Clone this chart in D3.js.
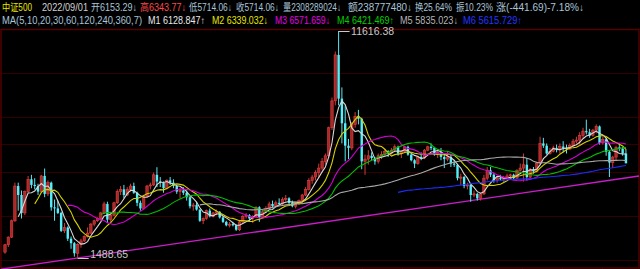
<!DOCTYPE html>
<html>
<head>
<meta charset="utf-8">
<style>
    body { margin: 0; background: #000; }
    svg { display: block; background: #000; }
    text { font-family: Arial, 'Liberation Sans', 'Noto Sans CJK SC', sans-serif; }
</style>
</head>
<body>
<svg width="640" height="269"></svg>
<script src="https://d3js.org/d3.v7.min.js"></script>
<script>
// monthly bars, 2007/01 .. 2022/09
const months = d3.timeMonth.range(new Date(2007, 0, 1), new Date(2022, 9, 1)).map(d3.timeFormat("%Y/%m"));

const opens = [1750,2080,2420,3150,4700,4300,3500,4450,5000,4750,4700,4450,
    5150,4350,4850,3750,3700,3500,2700,2850,2350,2150,1700,2100,
    2250,2450,2600,3000,3150,3250,3500,3900,3200,3400,3950,4450,
    4550,4300,4550,4700,4400,3950,3700,4250,4700,4750,5200,4900,
    4850,4600,4950,4850,4700,4450,4500,4400,4200,3800,3850,3650,
    3150,3250,3600,3350,3500,3550,3300,3100,2950,3000,2950,2750,
    3100,3350,3400,3250,3350,3750,3300,3550,3700,3900,3800,3950,
    3900,4100,4150,3950,3800,3900,4050,4300,4550,4950,5100,5300,
    5500,5800,6050,7300,8500,10550,8600,7500,6500,6400,7450,7800,
    7700,5800,5900,6050,5950,5800,6050,6100,6250,6150,6300,6450,
    6150,6236,6450,6100,5850,5700,6000,5950,6300,6450,6400,6100,
    6200,6000,5900,6000,5700,5650,5050,5100,4700,4750,4300,4350,
    4150,4350,5050,5400,5207,4950,5050,5000,5050,5150,5200,5050,
    5400,5500,5650,5100,5450,5350,5700,6600,6500,6150,6250,6400,
    6350,6461,6400,6350,6500,6700,6750,6950,7150,7100,6950,7193,
    7359,6626,6786,6230,5745,5990,6420,6367,6153.29];
const highs = [2120,2450,3200,4850,4850,4500,4500,5150,5200,5050,4800,5200,
    5480,4950,4900,4100,4050,3550,3050,2900,2450,2200,2150,2350,
    2500,2850,3050,3200,3300,3550,4000,4000,3500,4000,4550,4700,
    4750,4650,4800,4850,4450,4050,4300,4750,4850,5300,5540,5100,
    4900,5000,5100,5000,4750,4600,4650,4500,4250,3950,4000,3650,
    3300,3650,3700,3550,3650,3580,3350,3150,3100,3100,2980,3150,
    3400,3500,3450,3400,3800,3800,3650,3800,4000,4050,4050,4150,
    4200,4300,4200,4050,3950,4100,4350,4650,5050,5200,5400,5700,
    5950,6150,7350,8650,10700,11616.38,9100,8300,6800,7550,8000,8100,
    7750,6100,6300,6200,6000,6150,6250,6350,6300,6400,6550,6500,
    6250,6500,6500,6150,5900,6050,6200,6350,6500,6600,6450,6250,
    6400,6100,6250,6100,5850,5700,5250,5150,4850,4800,4500,4400,
    4400,5200,5550,5550,5300,5150,5200,5150,5250,5250,5250,5450,
    5700,6150,5950,5500,5550,5750,6900,6850,6600,6400,6500,6550,
    6600,6700,6550,6600,6800,6900,7100,7300,7660,7250,7250,7450,
    7400,6900,6850,6300,6050,6500,6600,6450,6343.77];
const lows = [1680,1980,2380,3100,3600,3250,3400,4400,4600,4550,4300,4400,
    4200,4250,3600,3150,3450,2650,2600,2250,1900,1550,1488.65,1950,
    2200,2400,2550,2900,3100,3200,3450,3050,3100,3350,3900,4300,
    4150,4250,4450,4350,3800,3600,3650,4200,4550,4700,4650,4650,
    4400,4550,4750,4600,4350,4150,4300,4050,3700,3600,3600,3100,
    3000,3200,3300,3300,3400,3250,3050,2900,2850,2900,2700,2690,
    3050,3250,3150,3050,3300,3100,3250,3500,3650,3700,3750,3850,
    3850,4000,3850,3750,3700,3850,3950,4250,4500,4800,4950,5050,
    5400,5650,6000,7200,8300,8300,6600,5800,5900,6300,7300,7450,
    5450,5200,5650,5850,5650,5700,5900,6000,6000,6100,6250,6050,
    5950,6200,6050,5800,5500,5650,5850,5900,6250,6300,6050,5950,
    5850,5500,5800,5550,5550,4950,4750,4600,4550,4000,4200,4050,
    4050,4300,4950,5100,4850,4850,4950,4850,5000,5000,5000,5000,
    5350,4900,4950,5050,5250,5300,5650,6400,6100,6100,6200,6200,
    6150,6200,6150,6300,6450,6600,6550,6850,7000,6850,6900,7050,
    6550,6550,6050,5100,5500,5850,6250,6050,5714.06];
const closes = [2080,2420,3150,4700,4300,3500,4450,5000,4750,4700,4450,5150,
    4350,4850,3750,3700,3500,2700,2850,2350,2150,1700,2100,2250,
    2450,2600,3000,3150,3250,3500,3900,3200,3400,3950,4450,4550,
    4300,4550,4700,4400,3950,3700,4250,4700,4750,5200,4900,4850,
    4600,4950,4850,4700,4450,4500,4400,4200,3800,3850,3650,3150,
    3250,3600,3350,3500,3550,3300,3100,2950,3000,2950,2750,3100,
    3350,3400,3250,3350,3750,3300,3550,3700,3900,3800,3950,3900,
    4100,4150,3950,3800,3900,4050,4300,4550,4950,5100,5300,5500,
    5800,6050,7300,8500,10550,8600,7500,6500,6400,7450,7800,7700,
    5800,5900,6050,5950,5800,6050,6100,6250,6150,6300,6450,6150,
    6236,6450,6100,5850,5700,6000,5950,6300,6450,6400,6100,6200,
    6000,5900,6000,5700,5650,5050,5100,4700,4750,4300,4350,4150,
    4350,5050,5400,5207,4950,5050,5000,5050,5150,5200,5050,5400,
    5500,5650,5100,5450,5350,5700,6600,6500,6150,6250,6400,6350,
    6461,6400,6350,6500,6700,6750,6950,7150,7100,6950,7193,7359,
    6626,6786,6230,5745,5990,6420,6367,6153,5714.06];

// moving averages shown (M1..M6)
const maPeriods = [5, 10, 20, 30, 60, 120];
const maNames = ["M1", "M2", "M3", "M4", "M5", "M6"];
const maLast = ["6128.847", "6339.032", "6571.659", "6421.469", "5835.023", "5615.729"];
const maArrows = ["↑", "↓", "↓", "↑", "↓", "↑"];

// header, first row
const headerItems = ["中证500", "2022/09/01", "开6153.29↓", "高6343.77↓", "低5714.06↓", "收5714.06↓",
    "量2308289024↓", "额238777480↓", "换25.64%", "振10.23%", "涨(-441.69)-7.18%↓"];
const maTitle = "MA(5,10,20,30,60,120,240,360,7)";

// horizontal grid levels
const gridValues = [9740, 7780, 6575, 5325, 3360, 1420];

// hand drawn support line, through two lows
const trendMonths = ["2008/11", "2018/10"];
const trendValues = [1488.65, 4050];

// ---------------------------------------------------------------
const W = 640, H = 269;
const svg = d3.select("svg");
const plot = { left: 1, right: 639, top: 29.5, bottom: 268 };

const data = months.map((m, i) => ({ m: m, o: opens[i], h: highs[i], l: lows[i], c: closes[i] }));

const x = d3.scaleBand()
    .domain(months)
    .range([3.35, 627.6])
    .padding(0);

const y = d3.scaleLinear()
    .domain([1488.65, 11616.38])
    .range([258, 31]);

const cx = m => x(m) + x.bandwidth() / 2;

// grid
svg.append("g")
    .selectAll("line")
    .data(gridValues)
    .join("line")
    .attr("x1", plot.left)
    .attr("x2", plot.right)
    .attr("y1", d => Math.round(y(d)) + 0.5)
    .attr("y2", d => Math.round(y(d)) + 0.5)
    .style("stroke", "#320000")
    .style("stroke-width", 1.2);

// frame
svg.append("rect")
    .attr("x", plot.left)
    .attr("y", plot.top)
    .attr("width", plot.right - plot.left)
    .attr("height", plot.bottom - plot.top)
    .style("fill", "none")
    .style("stroke", "#580000")
    .style("stroke-width", 1.4);

svg.append("g")
    .selectAll("line")
    .data(d3.range(2, W, 40))
    .join("line")
    .attr("x1", d => d + 0.5).attr("x2", d => d + 0.5)
    .attr("y1", plot.bottom).attr("y2", H)
    .style("stroke", "#580000");

// trend line, extended to both edges of the plot
const ti0 = months.indexOf(trendMonths[0]), ti1 = months.indexOf(trendMonths[1]);
const tSlope = (trendValues[1] - trendValues[0]) / (ti1 - ti0);
const idxAt = px => (px - x(months[0]) - x.bandwidth() / 2) / x.step();
const trendAt = px => trendValues[0] + (idxAt(px) - ti0) * tSlope;
svg.append("line")
    .attr("x1", plot.left)
    .attr("y1", y(trendAt(plot.left)))
    .attr("x2", plot.right)
    .attr("y2", y(trendAt(plot.right)))
    .style("stroke", "#c81ec8")
    .style("stroke-width", 1.3);

// candles
const up = d => d.c >= d.o;
const candles = svg.append("g").attr("class", "candles");
candles.selectAll("line")
    .data(data)
    .join("line")
    .attr("x1", d => cx(d.m))
    .attr("x2", d => cx(d.m))
    .attr("y1", d => y(d.h))
    .attr("y2", d => y(d.l))
    .style("stroke", d => up(d) ? "#d23a3a" : "#54e8f4")
    .style("stroke-width", 1);

candles.selectAll("rect")
    .data(data)
    .join("rect")
    .attr("x", d => cx(d.m) - 1.2)
    .attr("width", 2.4)
    .attr("y", d => y(Math.max(d.o, d.c)))
    .attr("height", d => Math.max(1, Math.abs(y(d.o) - y(d.c))))
    .style("fill", d => up(d) ? "#a82828" : "#54f0fa")
    .style("stroke", d => up(d) ? "#e04040" : "none")
    .style("stroke-width", 0.6);

// moving averages
const maColors = ["#d8d8d8", "#d2d200", "#d200d2", "#00c000", "#a8a8a8", "#1c2cff"];
maPeriods.forEach((n, k) => {
    const pts = data.map((d, i) => i < n - 1 ? null :
        { m: d.m, v: d3.mean(closes.slice(i - n + 1, i + 1)) });
    const line = d3.line()
        .defined(p => p !== null)
        .x(p => cx(p.m))
        .y(p => y(p.v));
    svg.append("path")
        .datum(pts)
        .attr("d", line)
        .style("fill", "none")
        .style("stroke", maColors[k])
        .style("stroke-width", 1.1);
});

// max / min markers
const iMax = d3.maxIndex(data, d => d.h);
const iMin = d3.minIndex(data, d => d.l);
const marks = [
    { i: iMax, v: data[iMax].h, dy: 3.5 },
    { i: iMin, v: data[iMin].l, dy: -1 }
];
marks.forEach(mk => {
    const px = cx(months[mk.i]), py = Math.round(y(mk.v)) + 0.5;
    svg.append("line")
        .attr("x1", px).attr("x2", px + 11)
        .attr("y1", py).attr("y2", py)
        .style("stroke", "#c8c8c8");
    svg.append("text")
        .attr("x", px + 12.5)
        .attr("y", py + mk.dy)
        .text(d3.format(".2f")(mk.v))
        .style("fill", "#c8c8c8")
        .style("font-size", "10.5px");
});

// header text
const row1X = [2, 42, 91, 140, 189, 236, 283, 348, 415, 456, 496];
const row1W = [30, 46, 46, 46, 43, 43, 58, 64, 37, 37, 88];
const row1C = ["#e6e600", "#d0d0d0", "#a8c4d8", "#ff4848", "#a8c4d8", "#a8c4d8",
    "#a8c4d8", "#a8c4d8", "#a8c4d8", "#a8c4d8", "#a8c4d8"];
svg.append("g")
    .selectAll("text")
    .data(headerItems)
    .join("text")
    .attr("x", (d, i) => row1X[i])
    .attr("y", 11)
    .attr("textLength", (d, i) => row1W[i])
    .attr("lengthAdjust", "spacingAndGlyphs")
    .style("fill", (d, i) => row1C[i])
    .style("font-size", "10px")
    .text(d => d);

const row2 = [maTitle].concat(maNames.map((n, k) => n + " " + maLast[k] + maArrows[k]));
const row2X = [2, 148, 212, 275, 337, 400, 463];
const row2W = [140, 57, 56, 55, 57, 58, 59];
const row2C = ["#a8c4d8"].concat(["#e8e8e8", "#e6e600", "#e600e6", "#00d200", "#b4b4b4", "#2436ff"]);
svg.append("g")
    .selectAll("text")
    .data(row2)
    .join("text")
    .attr("x", (d, i) => row2X[i])
    .attr("y", 24)
    .attr("textLength", (d, i) => row2W[i])
    .attr("lengthAdjust", "spacingAndGlyphs")
    .style("fill", (d, i) => row2C[i])
    .style("font-size", "10px")
    .text(d => d);
</script>
</body>
</html>
